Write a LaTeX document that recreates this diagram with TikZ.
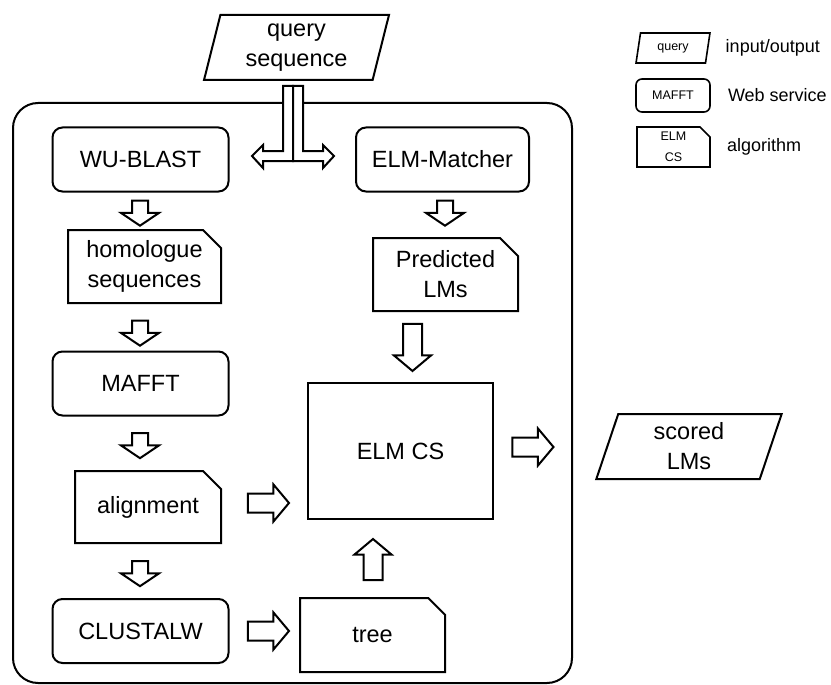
\documentclass[tikz,border=0pt]{standalone}
\usepackage{fontspec}
\setmainfont{Liberation Sans}
\usepackage{tikz}
\usetikzlibrary{positioning,calc,shapes.geometric,shapes.misc,shapes.arrows}
\tikzset{
  % boxes
  io/.style={trapezium,trapezium left angle=77,trapezium right angle=103,
             trapezium stretches=true,draw,line width=2pt,inner sep=0pt,
             minimum width=185pt,minimum height=65pt,align=center,
             font=\fontsize{23.5}{30}\selectfont},
  web/.style={rectangle,rounded corners=10pt,draw,line width=2pt,inner sep=0pt,
              minimum width=176pt,minimum height=64pt,
              font=\fontsize{23.5}{30}\selectfont},
  algo/.style={chamfered rectangle,chamfered rectangle corners=north east,
               chamfered rectangle xsep=9pt,chamfered rectangle ysep=9pt,
               draw,line width=2pt,inner sep=0pt,align=center,
               minimum width=146pt,minimum height=73pt,
               font=\fontsize{23.5}{30}\selectfont},
  frame/.style={draw,line width=2pt,rounded corners=25pt},
  % block arrows
  blk/.style={draw,line width=2pt,fill=white,line join=miter},
  sarr/.style={single arrow,draw,line width=2pt,inner xsep=0pt,inner ysep=7pt,
               single arrow head extend=11pt,single arrow tip angle=112,
               minimum height=25pt,minimum width=36pt},
  barr/.style={single arrow,draw,line width=2pt,inner xsep=0pt,inner ysep=8.5pt,
               single arrow head extend=9pt,single arrow tip angle=100,
               minimum height=41pt,minimum width=35pt},
  % legend
  lgd/.style={font=\fontsize{12.5}{21}\selectfont,line width=1.6pt},
  lbl/.style={font=\fontsize{18}{22}\selectfont,anchor=west,inner sep=0pt},
}
\begin{document}
\begin{tikzpicture}[x=1pt,y=-1pt]
\useasboundingbox (0,0) rectangle (831,685);
  \draw[frame] (13,103) rectangle (572,683);
  \node[io] (query) at (296.5,47.5) {query\\sequence};
  % left column
  \node[web] (blast) at (140.5,159.5) {WU-BLAST};
  \node[algo,minimum width=153pt] (homol) at (144.5,266.5) {homologue\\sequences};
  \node[web] (mafft) at (140.5,383.5) {MAFFT};
  \node[algo,minimum height=72pt] (align) at (148,507) {alignment};
  \node[web] (clustalw) at (140.5,631) {CLUSTALW};
  % right column
  \node[web,minimum width=173pt] (matcher) at (442.5,159.5) {ELM-Matcher};
  \node[algo,minimum width=145pt] (pred) at (445.5,274.5) {Predicted\\LMs};
  \node[draw,line width=2pt,minimum width=185pt,minimum height=136pt,
        font=\fontsize{23.5}{30}\selectfont] (elmcs) at (400.5,451) {ELM CS};
  \node[algo,minimum width=145pt,minimum height=74pt] (tree) at (372.5,635) {tree};
  \node[io,minimum width=186pt] (scored) at (689,446.5) {scored\\LMs};
  % query splits to both services
  \coordinate (split) at (293,161);
  \draw[blk] (split) -- ++(0,-75) -- ++(-10,0) -- ++(0,65) -- ++(-20,0)
    -- ++(0,-6) -- ++(-11,11) -- ++(11,12) -- ++(0,-7) -- cycle;
  \draw[blk] (split) -- ++(0,-75) -- ++(10,0) -- ++(0,65) -- ++(20,0)
    -- ++(0,-6) -- ++(11,11) -- ++(-11,12) -- ++(0,-7) -- cycle;
  % flow arrows
  \node[sarr,rotate=-90] (a1) at (140,210.5) {};
  \node[sarr,rotate=-90] (a2) at (140,330.5) {};
  \node[sarr,rotate=-90] (a3) at (140,443) {};
  \node[sarr,rotate=-90] (a4) at (140,571) {};
  \node[sarr,rotate=-90] (a5) at (445,210.5) {};
  \node[barr,rotate=-90,minimum height=47pt] (a6) at (412.5,343.5) {};
  \node[barr] (a7) at (264.5,503) {};
  \node[barr] (a8) at (264.5,631) {};
  \node[barr,rotate=90] (a9) at (373,563.5) {};
  \node[barr] (a10) at (529,447) {};
  % legend
  \node[io,lgd,minimum width=74pt,minimum height=30pt] (lq) at (673,48) {query};
  \node[web,lgd,rounded corners=6pt,minimum width=74pt,minimum height=33pt] (lm) at (673,95.5) {MAFFT};
  \node[algo,lgd,chamfered rectangle xsep=5pt,chamfered rectangle ysep=5pt,
        minimum width=73pt,minimum height=40pt] (la) at (673.5,147) {ELM\\CS};
  \node[lbl,right=17pt of lq] (lqt) {input/output};
  \node[lbl,right=17pt of lm] (lmt) {Web service};
  \node[lbl,right=16pt of la] (lat) {algorithm};
\end{tikzpicture}
\end{document}
